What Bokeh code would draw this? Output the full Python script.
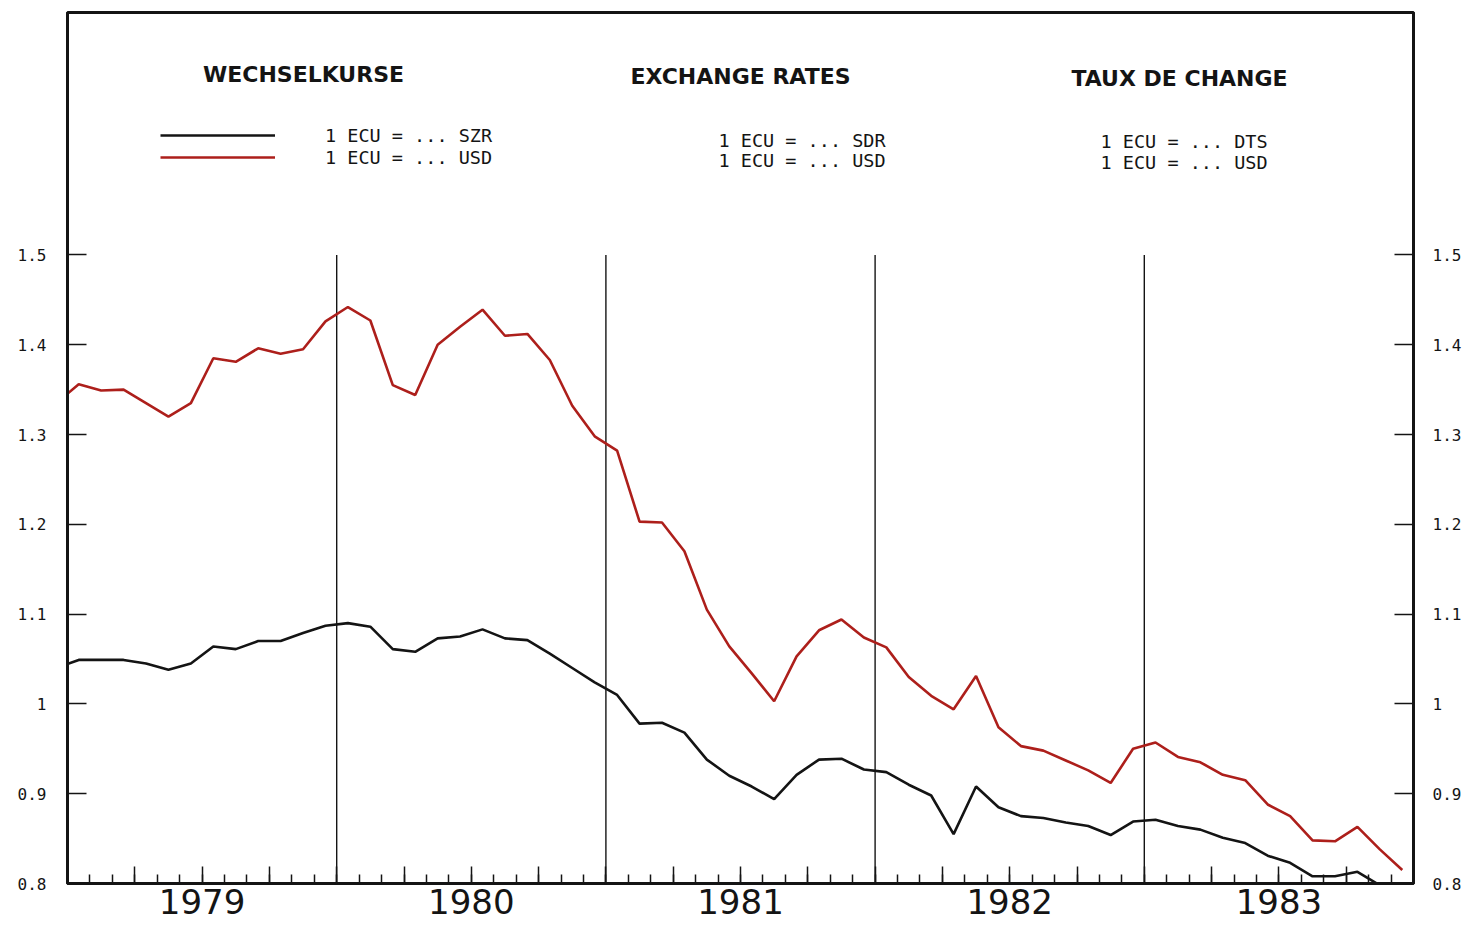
from bokeh.plotting import figure
from bokeh.models import (Range1d, FixedTicker, LinearAxis, Legend, LegendItem, Label)
from bokeh.embed import file_html
from bokeh.resources import INLINE

# ---- data (monthly averages, Dec 1978 .. Dec 1983) ----
month_index = list(range(-1, 60))          # months since Jan 1979 (Dec 1978 = -1)
ecu_sdr = [1.040, 1.049, 1.049, 1.049, 1.045, 1.038, 1.045, 1.064, 1.061, 1.070, 1.070, 1.079, 1.087,
           1.090, 1.086, 1.061, 1.058, 1.073, 1.075, 1.083, 1.073, 1.071, 1.056, 1.040, 1.024,
           1.010, 0.978, 0.979, 0.968, 0.938, 0.920, 0.908, 0.894, 0.921, 0.938, 0.939, 0.927,
           0.924, 0.910, 0.898, 0.855, 0.908, 0.885, 0.875, 0.873, 0.868, 0.864, 0.854, 0.869,
           0.871, 0.864, 0.860, 0.851, 0.845, 0.831, 0.823, 0.808, 0.808, 0.813, 0.798, 0.790]
ecu_usd = [1.335, 1.356, 1.349, 1.350, 1.335, 1.320, 1.335, 1.385, 1.381, 1.396, 1.390, 1.395, 1.426,
           1.442, 1.427, 1.355, 1.344, 1.400, 1.420, 1.439, 1.410, 1.412, 1.383, 1.332, 1.298,
           1.282, 1.203, 1.202, 1.170, 1.105, 1.064, 1.034, 1.003, 1.053, 1.082, 1.094, 1.074,
           1.063, 1.030, 1.009, 0.994, 1.031, 0.974, 0.953, 0.948, 0.937, 0.926, 0.912, 0.950,
           0.957, 0.941, 0.935, 0.921, 0.915, 0.888, 0.875, 0.848, 0.847, 0.863, 0.838, 0.815]
years = ["1979", "1980", "1981", "1982", "1983"]
year_centers = [6, 18, 30, 42, 54]
year_bounds = [12, 24, 36, 48]
y_ticks = [0.8, 0.9, 1.0, 1.1, 1.2, 1.3, 1.4, 1.5]
y_tick_labels = ["0.8", "0.9", "1", "1.1", "1.2", "1.3", "1.4", "1.5"]
titles = ["WECHSELKURSE", "EXCHANGE RATES", "TAUX DE CHANGE"]
legend_labels = ["1 ECU = ... SZR", "1 ECU = ... USD"]
col2_labels = ["1 ECU = ... SDR", "1 ECU = ... USD"]
col3_labels = ["1 ECU = ... DTS", "1 ECU = ... USD"]

x_mid = [m + 0.5 for m in month_index]

RED = "#ad1f1b"
INK = "#141414"
PLOT_FONT = "DejaVu Sans Mono"

p = figure(frame_width=1346, frame_height=871, output_backend="svg", toolbar_location=None,
           x_range=Range1d(0, 60), y_range=Range1d(0.8, 1.77),
           min_border_left=67, min_border_top=12, min_border_right=47, min_border_bottom=40,
           x_axis_location=None, y_axis_location=None)
p.background_fill_color = "white"
p.border_fill_color = "white"
p.outline_line_color = INK
p.outline_line_width = 3
p.grid.visible = False

# axes
def style_y(ax):
    ax.ticker = FixedTicker(ticks=y_ticks)
    ax.major_label_overrides = {t: l for t, l in zip(y_ticks, y_tick_labels)}
    ax.major_tick_in = 19
    ax.major_tick_out = 0
    ax.minor_tick_in = 0
    ax.minor_tick_out = 0
    ax.axis_line_color = INK
    ax.axis_line_width = 3
    ax.major_tick_line_color = INK
    ax.major_tick_line_width = 1.5
    ax.major_label_text_font = PLOT_FONT
    ax.major_label_text_font_size = "16px"
    ax.major_label_text_color = INK

yl = LinearAxis()
style_y(yl)
yl.major_label_standoff = 21
p.add_layout(yl, "left")
yr = LinearAxis()
style_y(yr)
yr.major_label_standoff = 19
p.add_layout(yr, "right")

quarters = list(range(0, 61, 3))
months_all = list(range(0, 61))
xb = LinearAxis()
xb.ticker = FixedTicker(ticks=quarters, minor_ticks=months_all)
overrides = {q: "" for q in quarters}
for c, y in zip(year_centers, years):
    overrides[c] = y
xb.major_label_overrides = overrides
xb.major_tick_in = 17
xb.major_tick_out = 0
xb.minor_tick_in = 9
xb.minor_tick_out = 0
xb.axis_line_color = INK
xb.axis_line_width = 3
xb.major_tick_line_color = INK
xb.major_tick_line_width = 1.5
xb.minor_tick_line_color = INK
xb.minor_tick_line_width = 1.5
xb.major_label_text_font = "DejaVu Sans"
xb.major_label_text_font_size = "34px"
xb.major_label_text_color = INK
xb.major_label_standoff = 5
p.add_layout(xb, "below")

# year boundary lines
p.segment(x0=year_bounds, y0=[0.8] * 4, x1=year_bounds, y1=[1.5] * 4,
          line_color=INK, line_width=1.4)

# series
r_sdr = p.line(x_mid, ecu_sdr, line_color=INK, line_width=2.6)
r_usd = p.line(x_mid, ecu_usd, line_color=RED, line_width=2.6)

legend = Legend(items=[LegendItem(label=legend_labels[0], renderers=[r_sdr]),
                       LegendItem(label=legend_labels[1], renderers=[r_usd])],
                location=(93, 715), orientation="vertical",
                glyph_width=115, glyph_height=22, label_height=22, label_standoff=50,
                spacing=0, padding=0, margin=0,
                border_line_color=None, background_fill_alpha=0,
                label_text_font=PLOT_FONT, label_text_font_size="18.5px",
                label_text_color=INK)
p.add_layout(legend)

# titles
title_pos = [(10.52, 1.701), (30.0, 1.699), (49.57, 1.696)]
for t, (x, y) in zip(titles, title_pos):
    p.add_layout(Label(x=x, y=y, text=t, text_align="center", text_baseline="middle",
                       text_font="DejaVu Sans", text_font_style="bold",
                       text_font_size="22px", text_color=INK))

for labels, x0, ys in [(col2_labels, 29.02, (1.628, 1.605)), (col3_labels, 46.05, (1.626, 1.603))]:
    for lab, y in zip(labels, ys):
        p.add_layout(Label(x=x0, y=y, text=lab, text_align="left", text_baseline="middle",
                           text_font=PLOT_FONT, text_font_size="18.5px", text_color=INK))

open("out.html", "w").write(file_html(p, INLINE))
